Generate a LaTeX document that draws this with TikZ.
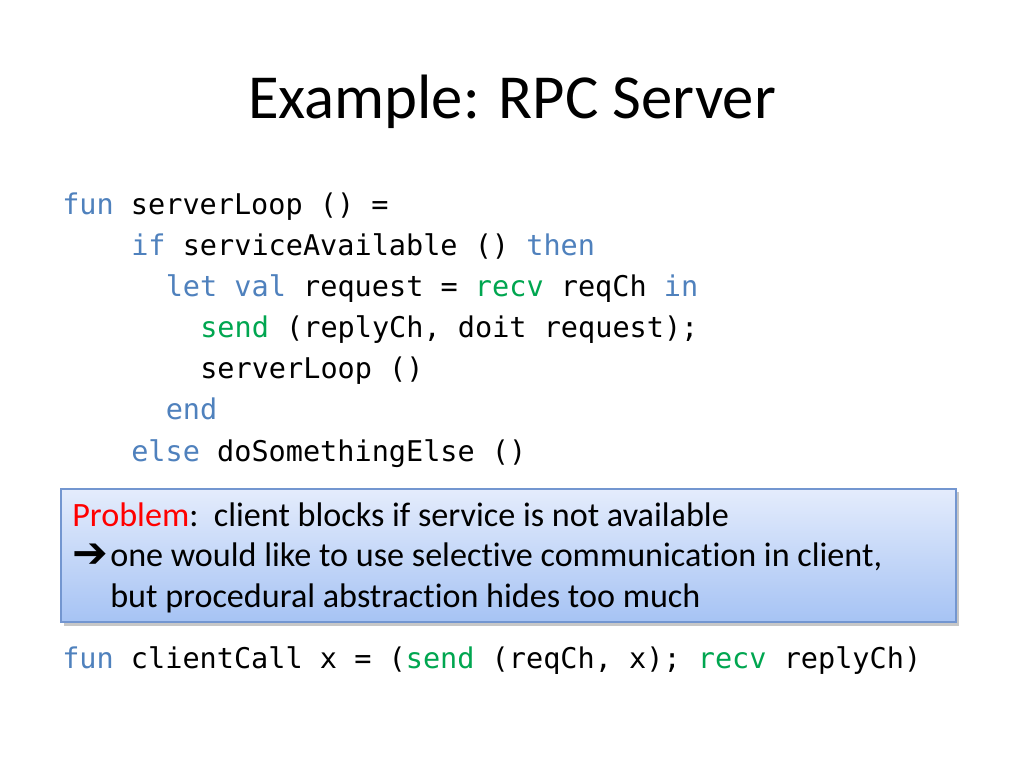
\documentclass[tikz,border=0pt]{standalone}
\usepackage{fontspec}
\setmainfont{Carlito}[Ligatures=NoCommon]
\setmonofont{DejaVu Sans Mono}
\newfontfamily\symfont{DejaVu Sans}
\usepackage{tikz}
\usetikzlibrary{backgrounds}

\definecolor{kwblue}{HTML}{4F81BD}
\definecolor{opgreen}{HTML}{00A650}
\definecolor{probred}{HTML}{FF0000}
\definecolor{boxtop}{HTML}{E4ECFC}
\definecolor{boxbot}{HTML}{A6C3F4}
\definecolor{boxline}{HTML}{7396D0}

\newcommand{\kw}[1]{\textcolor{kwblue}{#1}}
\newcommand{\op}[1]{\textcolor{opgreen}{#1}}

\tikzset{
  code/.style={anchor=base west,inner sep=0pt,font=\ttfamily\fontsize{21.4}{25}\selectfont},
  prose/.style={anchor=base west,inner sep=0pt,font=\fontsize{25.6}{30}\selectfont},
  probbox/.style={draw=boxline,line width=0.9pt,top color=boxtop,bottom color=boxbot}
}

\begin{document}
\begin{tikzpicture}[x=0.75pt,y=0.75pt,yscale=-1,xscale=1]
\path[use as bounding box,fill=white] (0,0) rectangle (1024,768);

% Title
\node (title) at (512,118) [anchor=base,inner sep=0pt,font=\fontsize{47}{56}\selectfont] {Example: RPC Server};

% Code Lines
\node (srv1) at (62,214) [code] {\kw{fun} serverLoop () =};
\node (srv2) at (131,255) [code] {\kw{if} serviceAvailable () \kw{then}};
\node (srv3) at (165.5,296) [code] {\kw{let} \kw{val} request = \op{recv} reqCh \kw{in}};
\node (srv4) at (200,337) [code] {\op{send} (replyCh, doit request);};
\node (srv5) at (200,378) [code] {serverLoop ()};
\node (srv6) at (165.5,419) [code] {\kw{end}};
\node (srv7) at (131,461) [code] {\kw{else} doSomethingElse ()};

%Shape: Box with shadow
\fill[black!22] (64,492) rectangle (959,626);
\draw[probbox] (61,489) rectangle (956,622);

% Text Node
\node (prob1) at (72,526) [prose] {\textcolor{probred}{Problem}:\ \ client blocks if service is not available};
\node (arrow) at (72,567) [anchor=base west,inner sep=0pt,font=\symfont\bfseries\fontsize{32}{32}\selectfont] {➔};
\node (prob2) at (110,566) [prose] {one would like to use selective communication in client,};
\node (prob3) at (110,607) [prose] {but procedural abstraction hides too much};

% Client Line
\node (client) at (62,668) [code] {\kw{fun} clientCall x = (\op{send} (reqCh, x); \op{recv} replyCh)};

\end{tikzpicture}
\end{document}
